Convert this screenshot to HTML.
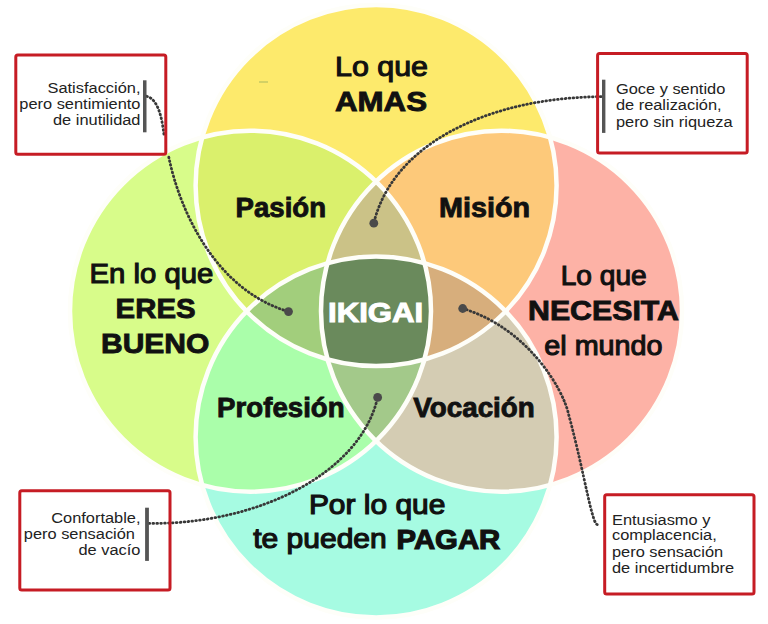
<!DOCTYPE html>
<html><head><meta charset="utf-8">
<style>
html,body{margin:0;padding:0;background:#fff;width:768px;height:624px;overflow:hidden}
svg{display:block}
text{font-family:"Liberation Sans",sans-serif}
.b{font-weight:bold;font-size:28px;fill:#111;stroke:#111;stroke-width:0.9px}
.r{font-weight:normal;font-size:28px;fill:#111;stroke:#111;stroke-width:1.1px}
.s{font-size:15.4px;fill:#222}
</style></head><body>
<svg width="768" height="624" viewBox="0 0 768 624">
<defs>
<clipPath id="cT"><circle cx="376.1" cy="185.6" r="180.5"/></clipPath>
<clipPath id="cB"><circle cx="376.1" cy="437" r="180.5"/></clipPath>
<clipPath id="cL"><circle cx="250.5" cy="311.2" r="180.5"/></clipPath>
<clipPath id="cR"><circle cx="501.5" cy="311.2" r="180.5"/></clipPath>
</defs>
<rect width="768" height="624" fill="#fff"/>
<!-- singles -->
<circle cx="376.1" cy="185.6" r="180.5" fill="#FDEA6C"/>
<circle cx="250.5" cy="311.2" r="180.5" fill="#D8FC8A"/>
<circle cx="501.5" cy="311.2" r="180.5" fill="#FDB2A6"/>
<circle cx="376.1" cy="437" r="180.5" fill="#A6FBE2"/>
<!-- pairs -->
<g clip-path="url(#cL)"><circle cx="376.1" cy="185.6" r="180.5" fill="#DAF06C"/></g>
<g clip-path="url(#cR)"><circle cx="376.1" cy="185.6" r="180.5" fill="#FDC97A"/></g>
<g clip-path="url(#cL)"><circle cx="376.1" cy="437" r="180.5" fill="#AAFEAA"/></g>
<g clip-path="url(#cR)"><circle cx="376.1" cy="437" r="180.5" fill="#D4CCB3"/></g>
<!-- triples -->
<g clip-path="url(#cL)"><g clip-path="url(#cR)"><circle cx="376.1" cy="185.6" r="180.5" fill="#CBC287"/></g></g>
<g clip-path="url(#cL)"><g clip-path="url(#cB)"><circle cx="376.1" cy="185.6" r="180.5" fill="#A2CE7C"/></g></g>
<g clip-path="url(#cR)"><g clip-path="url(#cB)"><circle cx="376.1" cy="185.6" r="180.5" fill="#D7AE7C"/></g></g>
<g clip-path="url(#cR)"><g clip-path="url(#cB)"><circle cx="250.5" cy="311.2" r="180.5" fill="#A3C98A"/></g></g>
<!-- quad -->
<g clip-path="url(#cL)"><g clip-path="url(#cR)"><g clip-path="url(#cB)"><circle cx="376.1" cy="185.6" r="180.5" fill="#6A8A5C"/></g></g></g>
<!-- white strokes -->
<g fill="none" stroke="#FEFEF9" stroke-width="4.5">
<circle cx="376.1" cy="185.6" r="180.5"/>
<circle cx="250.5" cy="311.2" r="180.5"/>
<circle cx="501.5" cy="311.2" r="180.5"/>
<circle cx="376.1" cy="437" r="180.5"/>
</g>

<!-- labels -->
<text class="r" x="335" y="75.5" textLength="93" lengthAdjust="spacingAndGlyphs">Lo que</text>
<text class="b" x="335" y="110.6" textLength="92" lengthAdjust="spacingAndGlyphs">AMAS</text>
<text class="b" x="235.6" y="217" textLength="90.4" lengthAdjust="spacingAndGlyphs">Pasión</text>
<text class="b" x="439" y="216.8" textLength="91" lengthAdjust="spacingAndGlyphs">Misión</text>
<text class="r" x="89.4" y="282.8" textLength="124" lengthAdjust="spacingAndGlyphs">En lo que</text>
<text class="b" x="115.6" y="317.7" textLength="80" lengthAdjust="spacingAndGlyphs">ERES</text>
<text class="b" x="101" y="353.1" textLength="108.4" lengthAdjust="spacingAndGlyphs">BUENO</text>
<text class="b" x="328" y="322.3" textLength="95.2" lengthAdjust="spacingAndGlyphs" style="fill:#fff;stroke:#fff;stroke-width:1px">IKIGAI</text>
<text class="r" x="560.7" y="284.7" textLength="86" lengthAdjust="spacingAndGlyphs">Lo que</text>
<text class="b" x="528" y="320.3" textLength="151" lengthAdjust="spacingAndGlyphs">NECESITA</text>
<text class="r" x="544.3" y="355" textLength="118.3" lengthAdjust="spacingAndGlyphs">el mundo</text>
<text class="b" x="217.1" y="416.8" textLength="127.5" lengthAdjust="spacingAndGlyphs">Profesión</text>
<text class="b" x="413.3" y="416.8" textLength="121.5" lengthAdjust="spacingAndGlyphs">Vocación</text>
<text class="r" x="308.9" y="513.8" textLength="136.5" lengthAdjust="spacingAndGlyphs" style="stroke-width:1.2px">Por lo que</text>
<text class="r" x="253.2" y="548.3" textLength="133.6" lengthAdjust="spacingAndGlyphs" style="stroke-width:1.2px">te pueden</text>
<text class="b" x="396.6" y="549.1" textLength="103.6" lengthAdjust="spacingAndGlyphs" style="stroke-width:1.2px">PAGAR</text>

<!-- dotted lines -->
<g fill="none" stroke="#383838" stroke-width="2.8" stroke-linecap="round" stroke-dasharray="0.7 3.2">
<path d="M146.7,96.3 C158.7,99.3 162.2,119.8 164,135 M168.8,157.2 C179.8,211 215.7,290.1 288.5,311.6"/>
<path d="M601,96.7 C490.3,97.5 393.1,142.7 373.8,223.2"/>
<path d="M149,523.4 C259.3,524.5 360.7,472.7 377.65,397.4"/>
<path d="M462.7,308.5 C528.4,328.4 563.3,389.7 568.5,414 C585.1,475.4 592.3,528.2 598.1,524.4"/>
</g>
<g fill="#4a4a4a">
<circle cx="288.5" cy="311.6" r="4.4"/>
<circle cx="373.8" cy="223.2" r="4.4"/>
<circle cx="377.65" cy="397.4" r="4.4"/>
<circle cx="462.7" cy="308.5" r="4.4"/>
</g>

<rect x="259" y="81" width="9" height="2" fill="#B8C060" opacity="0.6"/>
<!-- boxes -->
<g fill="none" stroke="#C61C24" stroke-width="3">
<rect x="15.8" y="55.1" width="150" height="99.1" rx="2"/>
<rect x="597.6" y="53.4" width="149.6" height="99.6" rx="2"/>
<rect x="19.8" y="490.8" width="150.2" height="99.1" rx="2"/>
<rect x="604.7" y="494.8" width="149.3" height="99.3" rx="2"/>
</g>
<g fill="#555">
<rect x="143" y="80.3" width="3.5" height="52"/>
<rect x="602" y="79.7" width="3.4" height="53.2"/>
<rect x="145.1" y="507.7" width="3.8" height="53.2"/>
</g>
<g class="s">
<text x="140.5" y="92.8" text-anchor="end" textLength="93.0" lengthAdjust="spacingAndGlyphs">Satisfacción,</text>
<text x="140.5" y="109.4" text-anchor="end" textLength="121.2" lengthAdjust="spacingAndGlyphs">pero sentimiento</text>
<text x="140.5" y="124.7" text-anchor="end" textLength="87.5" lengthAdjust="spacingAndGlyphs">de inutilidad</text>
<text x="615.9" y="93.7" textLength="109.4" lengthAdjust="spacingAndGlyphs">Goce y sentido</text>
<text x="615.9" y="110.2" textLength="105.7" lengthAdjust="spacingAndGlyphs">de realización,</text>
<text x="615.9" y="126.6" textLength="116.7" lengthAdjust="spacingAndGlyphs">pero sin riqueza</text>
<text x="140.5" y="522.9" text-anchor="end" textLength="89.3" lengthAdjust="spacingAndGlyphs">Confortable,</text>
<text x="135" y="538.6" text-anchor="end" textLength="111.2" lengthAdjust="spacingAndGlyphs">pero sensación</text>
<text x="140.5" y="554.5" text-anchor="end" textLength="62.0" lengthAdjust="spacingAndGlyphs">de vacío</text>
<text x="612" y="524.5" textLength="98.4" lengthAdjust="spacingAndGlyphs">Entusiasmo y</text>
<text x="612" y="539.8" textLength="104.8" lengthAdjust="spacingAndGlyphs">complacencia,</text>
<text x="612" y="557.1" textLength="111.2" lengthAdjust="spacingAndGlyphs">pero sensación</text>
<text x="612" y="572.8" textLength="122.1" lengthAdjust="spacingAndGlyphs">de incertidumbre</text>
</g>
</svg>
</body></html>
